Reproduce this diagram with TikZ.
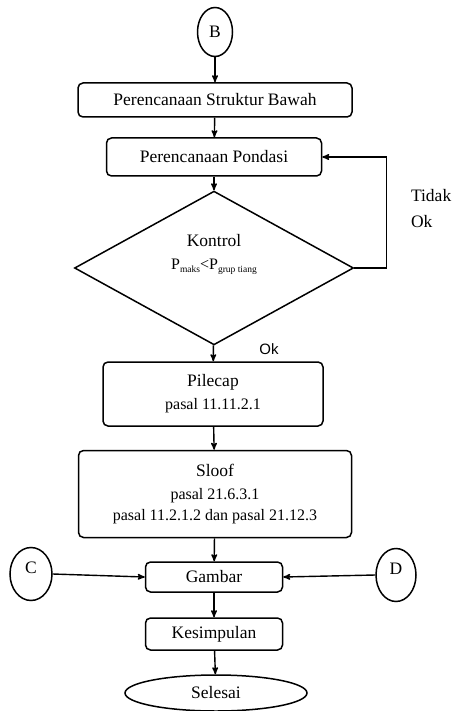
\documentclass[tikz,border=0pt]{standalone}
\usepackage{fontspec}
\setmainfont{Liberation Serif}
\newfontfamily\oksans{Liberation Sans}
\usetikzlibrary{arrows,shapes.geometric}
\usetikzlibrary{calc,positioning}

\newcommand{\subkecil}[1]{\raisebox{-3pt}{\fontsize{9.5}{10}\selectfont #1}}
\tikzset{
  kotak/.style={draw,rounded corners=5pt,line width=1.5pt,inner sep=0pt,align=center,font=\fontsize{17.5}{21}\selectfont},
  bulat/.style={draw,ellipse,line width=1.5pt,inner sep=0pt,font=\fontsize{17.5}{21}\selectfont}
}

\begin{document}
\begin{tikzpicture}[->,>=stealth',line width=1.4pt,x=1pt,y=-1pt]
  \useasboundingbox (0,0) rectangle (454,711);
	  \node[bulat,minimum width=35,minimum height=49] (B) at (215,32) {B};
	  \node[kotak,minimum width=274,minimum height=34] (SB) at (215,100) {Perencanaan Struktur Bawah};
	  \node[kotak,minimum width=215,minimum height=38] (P) at (214,157) {Perencanaan Pondasi};
	  \node[draw,diamond,line width=1.5pt,minimum width=279,minimum height=139,inner sep=0pt,align=center,
	        font=\fontsize{17.5}{25}\selectfont] (K) at (214,268)
	        {Kontrol\\[-2pt]{\fontsize{16}{19}\selectfont P\subkecil{maks}<P\subkecil{grup tiang}}\\[8pt]};
	  \node[kotak,minimum width=220,minimum height=64] (PC) at (213,394)
	        {Pilecap\\[2pt]{\fontsize{16}{19}\selectfont pasal 11.11.2.1}};
	  \node[kotak,minimum width=273,minimum height=87] (S) at (215,494)
	        {Sloof\\[2pt]{\fontsize{16}{19}\selectfont pasal 21.6.3.1}\\{\fontsize{16}{19}\selectfont pasal 11.2.1.2 dan pasal 21.12.3}};
	  \node[kotak,minimum width=137,minimum height=30] (G) at (214,577) {Gambar};
	  \node[kotak,minimum width=137,minimum height=32] (KS) at (214,634) {Kesimpulan};
	  \node[bulat,minimum width=182,minimum height=36] (SL) at (216,693) {Selesai};
	  \node[bulat,minimum width=42,minimum height=53,text depth=12pt] (C) at (31,574) {C};
	  \node[bulat,minimum width=40,minimum height=53,text depth=12pt] (D) at (396,575) {D};
	  \node[font=\fontsize{17.5}{26}\selectfont,align=left,anchor=north west] (TO) at (407,185) {Tidak\\Ok};
	  \node[font=\oksans\fontsize{15}{18}\selectfont] (OK) at (269,349) {Ok};
	  \path
(B) edge (SB)
(SB) edge (P)
(P) edge (K)
(K) edge (PC)
(PC) edge (S)
(S) edge (G)
(G) edge (KS)
(KS) edge (SL)
(C.east) edge (G.west)
(D.west) edge (G.east)
;
	  \draw (K.east) -- ++(32,0) |- (P.east);
	\end{tikzpicture}
\end{document}
